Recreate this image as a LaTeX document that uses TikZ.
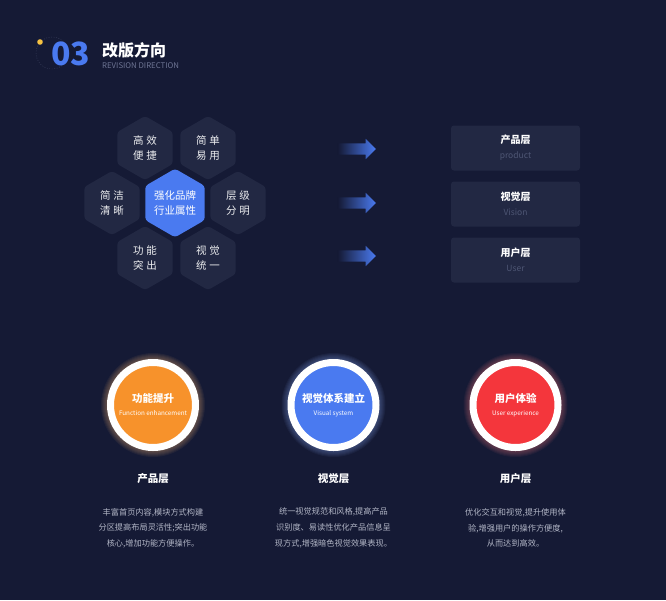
\documentclass[tikz,border=0pt]{standalone}
\usepackage{fontspec}
\setmainfont{Noto Sans CJK SC}
\usetikzlibrary{positioning,shapes.geometric,shapes.arrows}

\definecolor{bgnavy}{RGB}{21,26,53}
\definecolor{cellfill}{RGB}{34,40,67}
\definecolor{brandblue}{RGB}{74,122,240}
\definecolor{ringorange}{RGB}{247,146,43}
\definecolor{ringred}{RGB}{244,54,60}
\definecolor{subgray}{RGB}{78,86,116}
\definecolor{bodygray}{RGB}{178,182,198}
\definecolor{headgray}{RGB}{110,117,148}
\definecolor{dotyellow}{RGB}{246,194,66}

\begin{document}
\begin{tikzpicture}[
  x=1pt, y=-1pt,
  hexcell/.style={
    regular polygon, regular polygon sides=6, regular polygon rotate=30,
    minimum size=64pt, inner sep=0pt, rounded corners=3pt,
    fill=cellfill, text=white!92!cellfill, align=center,
    font=\fontsize{10.5}{15.5}\selectfont,
  },
  hexcore/.style={hexcell, fill=brandblue, text=white},
  flowarrow/.style={
    single arrow, single arrow head extend=4.5pt, single arrow tip angle=90,
    minimum height=38pt, inner xsep=0pt, inner ysep=5.5pt,
    left color=bgnavy, right color=brandblue, draw=none,
  },
  layerbox/.style={
    rectangle, rounded corners=3pt, fill=cellfill,
    minimum width=129pt, minimum height=45pt,
    align=center, text=white, font=\fontsize{10}{14}\selectfont,
  },
  ring/.style={
    circle, draw=white, line width=7pt, minimum size=85pt, inner sep=0pt,
    align=center, text=white, font=\bfseries\fontsize{10.5}{13}\selectfont,
  },
  coltitle/.style={text=white, font=\bfseries\fontsize{10.5}{12}\selectfont},
  colbody/.style={text=bodygray, align=center, font=\fontsize{8.2}{15.7}\selectfont},
]

% background and page size
\fill[bgnavy] (0,0) rectangle (666,600);

% header
\draw[headgray, opacity=0.45, dash pattern=on 1pt off 1.5pt] (52,53) circle[radius=16pt];
\fill[dotyellow] (40,42) circle[radius=2.8pt];
\node[anchor=west, inner sep=0pt, text=brandblue, font=\bfseries\fontsize{32}{32}\selectfont] (num) at (51,54) {03};
\node[anchor=west, inner sep=0pt, text=white, font=\bfseries\fontsize{16}{18}\selectfont] (title) at (102,50) {改版方向};
\node[anchor=west, inner sep=0pt, text=headgray, font=\fontsize{7.8}{9}\selectfont] (subtitle) at (102,65.5) {REVISION DIRECTION};

% hexagon cluster
\node[hexcell] (hxa) at (145,148) {高\hspace{3pt}效\\便\hspace{3pt}捷};
\node[hexcell] (hxb) at (208,148) {简\hspace{3pt}单\\易\hspace{3pt}用};
\node[hexcell] (hxc) at (112,203) {简\hspace{3pt}洁\\清\hspace{3pt}晰};
\node[hexcore] (hxo) at (175,203) {强化品牌\\行业属性};
\node[hexcell] (hxd) at (238,203) {层\hspace{3pt}级\\分\hspace{3pt}明};
\node[hexcell] (hxe) at (145,258) {功\hspace{3pt}能\\突\hspace{3pt}出};
\node[hexcell] (hxf) at (208,258) {视\hspace{3pt}觉\\统\hspace{3pt}一};

% arrows
\node[flowarrow] (ar1) at (354,149) {};
\node[flowarrow] (ar2) at (354,203) {};
\node[flowarrow] (ar3) at (354,256) {};

% layer boxes
\node[layerbox] (lay1) at (515.5,148) {{\bfseries 产品层}\\[1pt]{\fontsize{8.5}{10}\selectfont\color{subgray}product}};
\node[layerbox] (lay2) at (515.5,204) {{\bfseries 视觉层}\\[1pt]{\fontsize{8.5}{10}\selectfont\color{subgray}Vision}};
\node[layerbox] (lay3) at (515.5,260) {{\bfseries 用户层}\\[1pt]{\fontsize{8.5}{10}\selectfont\color{subgray}User}};

% glow behind the rings
\foreach \cx/\col in {153/ringorange, 333.5/brandblue, 515.5/ringred}
  \foreach \k in {1,...,7}
    \fill[\col!65!white, opacity=0.06] (\cx,405) circle[radius=45pt+1pt*\k];

% rings
\node[ring, fill=ringorange] (cir1) at (153,405) {功能提升\\{\mdseries\fontsize{6.3}{8}\selectfont Function enhancement}};
\node[ring, fill=brandblue] (cir2) at (333.5,405) {视觉体系建立\\{\mdseries\fontsize{6.3}{8}\selectfont Visual system}};
\node[ring, fill=ringred] (cir3) at (515.5,405) {用户体验\\{\mdseries\fontsize{6.3}{8}\selectfont User experience}};

% column texts
\node[coltitle] (ct1) at (153,479) {产品层};
\node[coltitle] (ct2) at (333.5,479) {视觉层};
\node[coltitle] (ct3) at (515.5,479) {用户层};

\node[colbody] (cb1) at (153,528) {丰富首页内容,模块方式构建\\分区提高布局灵活性;突出功能\\核心,增加功能方便操作。};
\node[colbody] (cb2) at (333.5,528) {统一视觉规范和风格,提高产品\\识别度、易读性优化产品信息呈\\现方式,增强暗色视觉效果表现。};
\node[colbody] (cb3) at (515.5,528) {优化交互和视觉,提升使用体\\验,增强用户的操作方便度,\\从而达到高效。};

\end{tikzpicture}
\end{document}
